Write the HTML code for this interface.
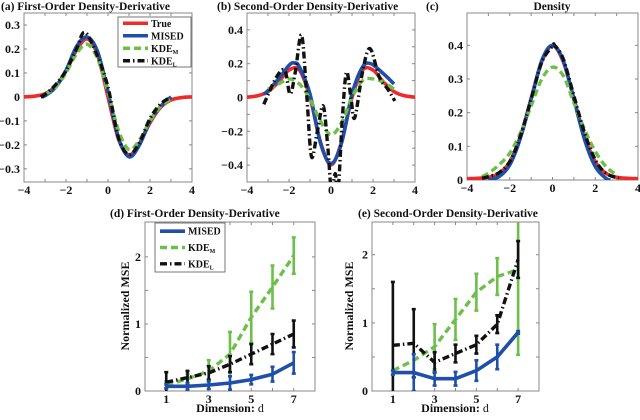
<!DOCTYPE html>
<html><head><meta charset="utf-8"><style>
body{margin:0;background:#fff;width:640px;height:415px;overflow:hidden}
svg text{font-family:"Liberation Serif",serif;font-weight:bold;fill:#111}
</style></head><body>
<svg id="fig" width="640" height="415" viewBox="0 0 640 415" xmlns="http://www.w3.org/2000/svg"></svg>
<script>
// ---- Panel (a) first-order derivative ----
const aTrueX=[-4,-3.5,-3,-2.5,-2,-1.5,-1,-0.5,0,0.5,1,1.5,2,2.5,3,3.5,4];
const aTrueY=[0,0.003,0.013,0.044,0.108,0.194,0.242,0.176,0,-0.176,-0.242,-0.194,-0.108,-0.044,-0.013,-0.003,0];
const aMisedX=[-3.2,-3,-2.5,-2,-1.5,-1,-0.5,0,0.5,1,1.5,2,2.5,3];
const aMisedY=[0,0.005,0.04,0.11,0.21,0.25,0.19,0.02,-0.17,-0.25,-0.2,-0.1,-0.04,0];
const aKdeMX=[-3,-2.5,-2,-1.5,-1,-0.5,0,0.5,1,1.5,2,2.5,3];
const aKdeMY=[0.01,0.04,0.1,0.18,0.22,0.16,0.02,-0.14,-0.22,-0.18,-0.1,-0.04,-0.01];
const aKdeLX=[-3.2,-3,-2.5,-2,-1.5,-1.1,-0.5,0,0.5,1,1.5,2,2.5,3];
const aKdeLY=[0,0.01,0.05,0.11,0.2,0.27,0.17,0.04,-0.17,-0.24,-0.19,-0.09,-0.03,0];
// ---- Panel (b) second-order derivative ----
const bTrueX=[-4,-3.5,-3,-2.5,-2,-1.5,-1,-0.5,0,0.5,1,1.5,2,2.5,3,3.5,4];
const bTrueY=[0.002,0.01,0.035,0.092,0.162,0.162,0,-0.264,-0.399,-0.264,0,0.162,0.162,0.092,0.035,0.01,0.002];
const bMisedX=[-3.2,-3,-2.5,-2,-1.75,-1.5,-1,-0.5,0,0.5,1,1.5,1.9,2.5,3];
const bMisedY=[0.02,0.04,0.11,0.19,0.205,0.18,0.02,-0.27,-0.39,-0.27,0.02,0.18,0.2,0.14,0.08];
const bKdeMX=[-3,-2.5,-2,-1.5,-1,-0.5,0,0.5,1,1.5,2,2.5,3];
const bKdeMY=[0.05,0.08,0.11,0.08,-0.01,-0.14,-0.22,-0.15,0,0.1,0.11,0.09,0.05];
const bKdeLX=[-3.2,-2.6,-2.2,-1.95,-1.7,-1.4,-1.15,-0.93,-0.65,-0.37,-0.15,0.02,0.2,0.34,0.55,0.74,0.95,1.13,1.5,1.85,2.3,2.7,3.04];
const bKdeLY=[-0.04,0.12,0.16,0.02,0.15,0.37,0,-0.35,-0.2,-0.05,-0.3,-0.55,-0.45,-0.55,-0.1,0.15,0,-0.12,0.15,0.29,0.12,0.05,-0.02];
// ---- Panel (c) density ----
const cTrueX=[-4,-3.5,-3,-2.5,-2,-1.5,-1,-0.5,0,0.5,1,1.5,2,2.5,3,3.5,4];
const cTrueY=[0.004,0.005,0.008,0.02,0.054,0.13,0.242,0.352,0.399,0.352,0.242,0.13,0.054,0.02,0.008,0.005,0.004];
const cMisedX=[-3,-2.5,-2,-1.5,-1,-0.5,0,0.5,1,1.5,2,2.5,2.7];
const cMisedY=[0,0.01,0.045,0.125,0.24,0.355,0.4,0.355,0.24,0.12,0.04,0.005,0];
const cKdeMX=[-3.3,-3,-2.5,-2,-1.5,-1,-0.5,0,0.5,1,1.5,2,2.5,3];
const cKdeMY=[0.01,0.02,0.045,0.08,0.14,0.22,0.3,0.335,0.31,0.23,0.15,0.085,0.04,0.015];
const cKdeLX=[-3.3,-3,-2.5,-2,-1.5,-1,-0.5,0,0.1,0.5,1,1.5,2,2.5,3.1];
const cKdeLY=[0.005,0.01,0.022,0.055,0.13,0.24,0.35,0.398,0.4,0.36,0.25,0.14,0.06,0.02,0.005];
// ---- Panel (d) ----
const dims=[1,2,3,4,5,6,7];
const dMised=[0.07,0.07,0.09,0.12,0.17,0.25,0.42];
const dMisedErr=[0.03,0.05,0.06,0.1,0.07,0.11,0.16];
const dKdeM=[0.09,0.18,0.3,0.55,1.1,1.55,2.02];
const dKdeMErr=[0.05,0.08,0.16,0.33,0.38,0.32,0.27];
const dKdeL=[0.13,0.2,0.27,0.4,0.55,0.7,0.85];
const dKdeLErr=[0.15,0.1,0.1,0.12,0.15,0.15,0.2];
// ---- Panel (e) ----
const eMised=[0.27,0.27,0.18,0.18,0.3,0.5,0.86];
const eMisedErr=[0.03,0.27,0.1,0.1,0.15,0.18,0.02];
const eKdeM=[0.3,0.45,0.65,1.05,1.45,1.68,1.78];
const eKdeMErr=[0,0,0.33,0.3,0.27,0.27,1.25];
const eKdeL=[0.67,0.7,0.42,0.55,0.68,0.98,1.93];
const eKdeLErr=[0.93,0.5,0.15,0.13,0.13,0.13,0.27];

const NS="http://www.w3.org/2000/svg";
const fig=document.getElementById('fig');
function mk(tag,attrs,parent){const e=document.createElementNS(NS,tag);for(const k in attrs)e.setAttribute(k,attrs[k]);(parent||fig).appendChild(e);return e;}
const RED="#ee2a2a",BLUE="#1f4fa8",GREEN="#6cc04a",BLACK="#111";
const styles={
 tru:{stroke:RED,"stroke-width":3.6},
 mised:{stroke:BLUE,"stroke-width":3.6},
 kdem:{stroke:GREEN,"stroke-width":3.4,"stroke-dasharray":"7,4"},
 kdel:{stroke:BLACK,"stroke-width":3.4,"stroke-dasharray":"7,3,1.5,3"}
};
function smooth(pts){let d="M"+pts[0][0].toFixed(1)+","+pts[0][1].toFixed(1);
 for(let i=0;i<pts.length-1;i++){const p0=pts[i-1]||pts[i],p1=pts[i],p2=pts[i+1],p3=pts[i+2]||p2;
  const c1=[p1[0]+(p2[0]-p0[0])/6,p1[1]+(p2[1]-p0[1])/6],c2=[p2[0]-(p3[0]-p1[0])/6,p2[1]-(p3[1]-p1[1])/6];
  d+=" C"+c1.map(v=>v.toFixed(1))+" "+c2.map(v=>v.toFixed(1))+" "+p2.map(v=>v.toFixed(1));}
 return d;}
function panel(o){
 const g=mk('g',{});
 
 
 const sx=v=>o.x0+(v-o.xmin)/(o.xmax-o.xmin)*(o.x1-o.x0);
 const sy=v=>o.y1-(v-o.ymin)/(o.ymax-o.ymin)*(o.y1-o.y0);
 const cid='clip'+o.name;
 const cp=mk('clipPath',{id:cid},g);mk('rect',{x:o.x0,y:o.y0,width:o.x1-o.x0,height:o.y1-o.y0},cp);
 const frame=mk('rect',{x:o.x0,y:o.y0,width:o.x1-o.x0,height:o.y1-o.y0,fill:"none",stroke:"#888","stroke-width":1},g);
 
 
 o.xticks.forEach((t,i)=>{const x=sx(t);
  mk('line',{x1:x,x2:x,y1:o.y1,y2:o.y1-3,stroke:"#888"},g);mk('line',{x1:x,x2:x,y1:o.y0,y2:o.y0+3,stroke:"#888"},g);
  if(o.xlabels[i]!==""){const tx=mk('text',{x:x,y:o.y1+12,"font-size":12,"text-anchor":"middle"},g);tx.textContent=o.xlabels[i];
  
  }});
 o.yticks.forEach((t,i)=>{const y=sy(t);
  mk('line',{x1:o.x0,x2:o.x0+3,y1:y,y2:y,stroke:"#888"},g);mk('line',{x1:o.x1,x2:o.x1-3,y1:y,y2:y,stroke:"#888"},g);
  if(o.ylabels[i]!==""){const ty=mk('text',{x:o.x0-4,y:y+4,"font-size":12,"text-anchor":"end"},g);ty.textContent=o.ylabels[i];
  
  }});
 const pg=mk('g',{"clip-path":"url(#"+cid+")"},g);
 (o.series||[]).forEach(s=>{const p=mk('path',Object.assign({d:smooth(s.x.map((v,i)=>[sx(v),sy(s.y[i])])),fill:"none","stroke-linejoin":"round"},styles[s.st]),pg);
  
  });
 (o.err||[]).forEach(s=>{
  const p=mk('path',Object.assign({d:"M"+dims.map((v,i)=>sx(v).toFixed(1)+","+sy(s.y[i]).toFixed(1)).join(" L"),fill:"none","stroke-linejoin":"round"},styles[s.st]),pg);
  
  
  dims.forEach((v,i)=>{if(!s.e[i])return;const x=sx(v),ya=sy(s.y[i]-s.e[i]),yb=sy(s.y[i]+s.e[i]);
   const b=mk('path',{d:`M${x},${ya} L${x},${yb} M${x-2},${ya} L${x+2},${ya} M${x-2},${yb} L${x+2},${yb}`,stroke:styles[s.st].stroke,"stroke-width":2.6,fill:"none"},pg);
   
   });});
 const tt=mk('text',{x:o.tx,y:o.ty,"font-size":11.5},g);tt.textContent=o.title;
 
 
 return {g,sx,sy};
}
const xt=[-4,-3,-2,-1,0,1,2,3,4],xl=["−4","","−2","","0","","2","","4"];
panel({name:'panel-a',x0:24,x1:192,y0:13,y1:182,xmin:-4,xmax:4,ymin:-0.355,ymax:0.35,xticks:xt,xlabels:xl,
 yticks:[-0.3,-0.2,-0.1,0,0.1,0.2,0.3],ylabels:["−0.3","−0.2","−0.1","0","0.1","0.2","0.3"],tx:1,ty:10,title:"(a)    First-Order Density-Derivative",
 series:[{x:aTrueX,y:aTrueY,st:'tru',name:'true-line'},{x:aMisedX,y:aMisedY,st:'mised',name:'mised-line'},{x:aKdeMX,y:aKdeMY,st:'kdem',name:'kde-m-line'},{x:aKdeLX,y:aKdeLY,st:'kdel',name:'kde-l-line'}]});
panel({name:'panel-b',x0:247,x1:415,y0:13,y1:182,xmin:-4,xmax:4,ymin:-0.5,ymax:0.5,xticks:xt,xlabels:xl,
 yticks:[-0.4,-0.3,-0.2,-0.1,0,0.1,0.2,0.3,0.4],ylabels:["−0.4","","−0.2","","0","","0.2","","0.4"],tx:217,ty:10,title:"(b)   Second-Order Density-Derivative",
 series:[{x:bTrueX,y:bTrueY,st:'tru',name:'true-line'},{x:bMisedX,y:bMisedY,st:'mised',name:'mised-line'},{x:bKdeMX,y:bKdeMY,st:'kdem',name:'kde-m-line'},{x:bKdeLX,y:bKdeLY,st:'kdel',name:'kde-l-line'}]});
panel({name:'panel-c',x0:467,x1:638,y0:13,y1:180,xmin:-4,xmax:4,ymin:0,ymax:0.496,xticks:xt,xlabels:xl,
 yticks:[0,0.1,0.2,0.3,0.4],ylabels:["0","0.1","0.2","0.3","0.4"],tx:426,ty:10,title:"(c)",
 series:[{x:cTrueX,y:cTrueY,st:'tru',name:'true-line'},{x:cMisedX,y:cMisedY,st:'mised',name:'mised-line'},{x:cKdeMX,y:cKdeMY,st:'kdem',name:'kde-m-line'},{x:cKdeLX,y:cKdeLY,st:'kdel',name:'kde-l-line'}]});
const ct=mk('text',{x:552,y:10,"font-size":11.5,"text-anchor":"middle"});ct.textContent="Density";


const dx=[1,2,3,4,5,6,7],dl=["1","","3","","5","","7"];
panel({name:'panel-d',x0:145,x1:315,y0:222,y1:391,xmin:0,xmax:8,ymin:0,ymax:2.52,xticks:dx,xlabels:dl,
 yticks:[0,0.5,1,1.5,2],ylabels:["0","","1","","2"],tx:110,ty:217,title:"(d)    First-Order Density-Derivative",
 err:[{y:dKdeM,e:dKdeMErr,st:'kdem',name:'kde-m-line'},{y:dKdeL,e:dKdeLErr,st:'kdel',name:'kde-l-line'},{y:dMised,e:dMisedErr,st:'mised',name:'mised-line'}]});
panel({name:'panel-e',x0:372,x1:539,y0:222,y1:391,xmin:0,xmax:8,ymin:0,ymax:2.48,xticks:dx,xlabels:dl,
 yticks:[0,0.5,1,1.5,2],ylabels:["0","","1","","2"],tx:358,ty:217,title:"(e)   Second-Order Density-Derivative",
 err:[{y:eKdeM,e:eKdeMErr,st:'kdem',name:'kde-m-line'},{y:eKdeL,e:eKdeLErr,st:'kdel',name:'kde-l-line'},{y:eMised,e:eMisedErr,st:'mised',name:'mised-line'}]});
[[129,'y-axis-title-d'],[353,'y-axis-title-e']].forEach(([x,n])=>{const t=mk('text',{x:x,y:306,"font-size":12,"text-anchor":"middle",transform:`rotate(-90 ${x} 306)`});t.textContent="Normalized MSE";
 
 });
[[230,'x-axis-title-d'],[455,'x-axis-title-e']].forEach(([x,n])=>{const t=mk('text',{x:x,y:412,"font-size":12,"text-anchor":"middle"});t.innerHTML='Dimension: <tspan font-weight="normal">d</tspan>';
 
 });
function legend(x,y,w,h,entries,name){const g=mk('g',{});
 
 
 mk('rect',{x:x,y:y,width:w,height:h,fill:"#fff",stroke:"#555","stroke-width":0.8},g);
 const step=h/entries.length;
 entries.forEach((en,i)=>{const yy=y+step*(i+0.5);
  mk('line',Object.assign({x1:x+5,x2:x+30,y1:yy,y2:yy},styles[en.st]),g);
  const t=mk('text',{x:x+33,y:yy+3.5,"font-size":10},g);t.innerHTML=en.label;
  
  });}
const sub=s=>`KDE<tspan font-size="6" dy="2">${s}</tspan>`;
legend(118,17,73,50,[{st:'tru',label:'True'},{st:'mised',label:'MISED'},{st:'kdem',label:sub('M')},{st:'kdel',label:sub('L')}],'legend-a');
legend(155,223,70,49,[{st:'mised',label:'MISED'},{st:'kdem',label:sub('M')},{st:'kdel',label:sub('L')}],'legend-d');
</script>
</body></html>
